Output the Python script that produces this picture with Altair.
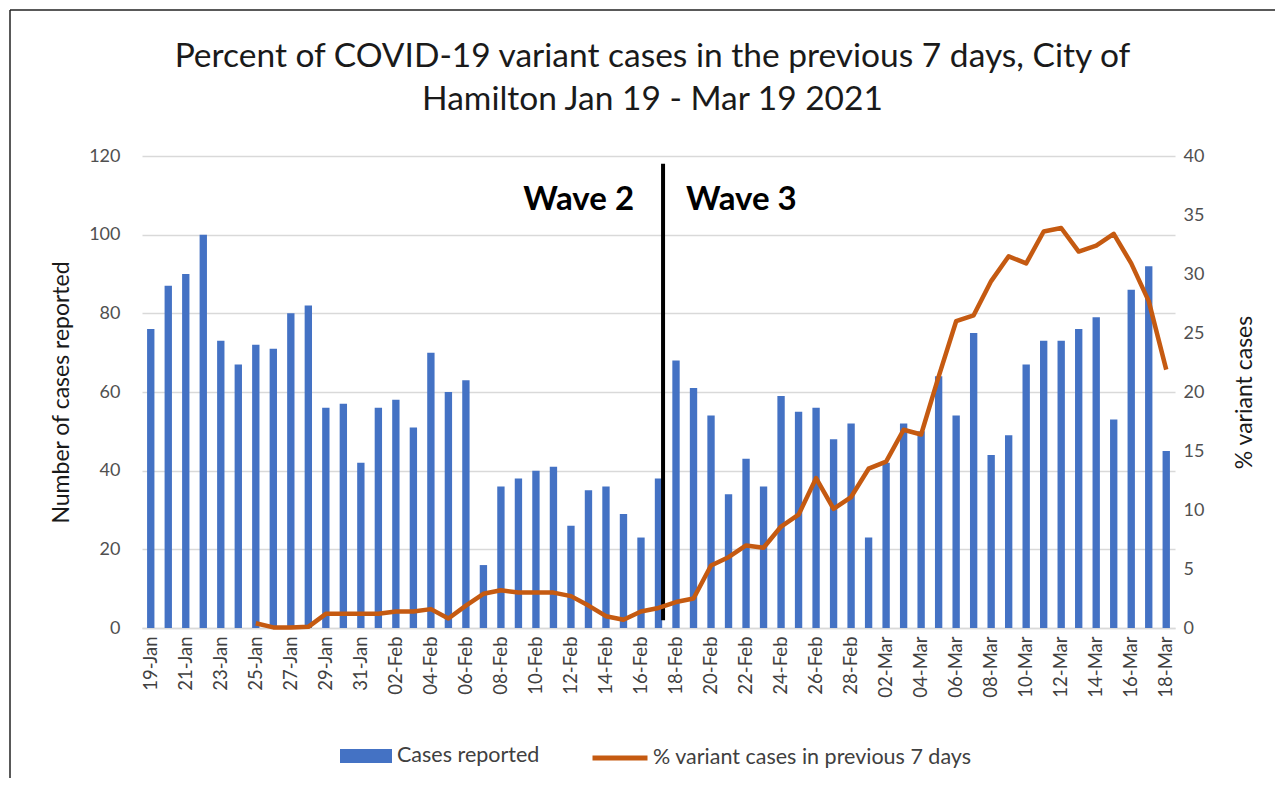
import altair as alt
import pandas as pd

# ---- data ----
dates = list(pd.date_range("2021-01-19", "2021-03-18").strftime("%d-%b"))

cases = [76, 87, 90, 100, 73, 67, 72, 71, 80, 82, 56, 57, 42,
         56, 58, 51, 70, 60, 63, 16, 36, 38, 40, 41, 26, 35, 36, 29, 23, 38,
         68, 61, 54, 34, 43, 36, 59, 55, 56, 48, 52,
         23, 42, 52, 50, 64, 54, 75, 44, 49, 67, 73, 73, 76, 79, 53, 86, 92, 45]

pct_variant = [None, None, None, None, None, None, 0.4, 0.05, 0.05, 0.1, 1.2, 1.2, 1.2,
               1.2, 1.4, 1.4, 1.6, 0.8, 1.9, 2.9, 3.2, 3.0, 3.0, 3.0, 2.7, 1.9, 1.0, 0.7, 1.4, 1.7,
               2.2, 2.5, 5.3, 6.0, 7.0, 6.8, 8.6, 9.6, 12.7, 10.1, 11.1,
               13.5, 14.1, 16.8, 16.4, 21.3, 26.0, 26.5, 29.4, 31.5, 30.9, 33.6, 33.9, 31.9, 32.4,
               33.4, 30.9, 27.7, 21.9]

bar_series = "Cases reported"
line_series = "% variant cases in previous 7 days"
wave_split_date = "17-Feb"
wave_labels = ["Wave 2", "Wave 3"]

title_lines = ["Percent of COVID-19 variant cases in the previous 7 days, City of",
               "Hamilton Jan 19 - Mar 19 2021"]

df = pd.DataFrame({"date": dates, "cases": cases, "pct": pct_variant})
df["bs"] = bar_series
df["ls"] = line_series

FONT = "Lato"
xscale = alt.Scale(domain=dates, paddingInner=0, paddingOuter=0)

x_enc = alt.X("date:N", scale=xscale, title=None,
              axis=alt.Axis(values=dates[::2], labelAngle=270, labelFontSize=18.5,
                            labelColor="#404040", labelPadding=8, ticks=False,
                            domainColor="#d9d9d9", domainWidth=1.5, labelFont=FONT))

yscale = alt.Scale(domain=[0, 120], nice=False)
yaxis = alt.Axis(values=list(range(0, 121, 20)), title="Number of cases reported",
                 titleFontSize=23, titleFontWeight="normal", titleColor="#1a1a1a",
                 labelFontSize=18, labelColor="#505050", labelPadding=22,
                 domain=False, ticks=False, grid=True, gridColor="#d9d9d9",
                 gridWidth=1.5, titlePadding=15)

bars = alt.Chart(df).mark_bar(width=alt.RelativeBandSize(0.42)).encode(
    x=x_enc,
    y=alt.Y("cases:Q", scale=yscale, axis=yaxis),
    fill=alt.Fill("bs:N", scale=alt.Scale(domain=[bar_series], range=["#4472c4"]),
                  legend=alt.Legend(orient="none", legendX=198, legendY=574, title=None,
                                    symbolType="M-1,-0.27L1,-0.27L1,0.27L-1,0.27Z",
                                    symbolSize=2704, symbolStrokeWidth=0,
                                    labelFontSize=21.5, labelColor="#404040", labelLimit=0,
                                    labelOffset=5, padding=0, labelFont=FONT)),
)

split_df = pd.DataFrame({"date": [wave_split_date], "cases": [2], "y1": [118],
                         "l2": [wave_labels[0]], "l3": [wave_labels[1]]})
label_df = pd.DataFrame({"date": [wave_split_date], "cases": [106.3],
                         "l2": [wave_labels[0]], "l3": [wave_labels[1]]})

rule = alt.Chart(split_df).mark_rule(color="black", strokeWidth=4).encode(
    x=alt.X("date:N", scale=xscale, bandPosition=0.76),
    y=alt.Y("cases:Q", scale=yscale, axis=yaxis),
    y2="y1:Q",
)
t2 = alt.Chart(label_df).mark_text(align="right", baseline="alphabetic", dx=-29,
                                   fontSize=33, fontWeight="bold", color="black").encode(
    x=alt.X("date:N", scale=xscale, bandPosition=0.76),
    y=alt.Y("cases:Q", scale=yscale, axis=yaxis),
    text="l2:N",
)
t3 = alt.Chart(label_df).mark_text(align="left", baseline="alphabetic", dx=23,
                                   fontSize=33, fontWeight="bold", color="black").encode(
    x=alt.X("date:N", scale=xscale, bandPosition=0.76),
    y=alt.Y("cases:Q", scale=yscale, axis=yaxis),
    text="l3:N",
)

frame_df = pd.DataFrame({"a": [0]})
border_left = alt.Chart(frame_df).mark_rule(color="#222222", strokeWidth=1.5).encode(
    x=alt.value(-132), y=alt.value(-146), y2=alt.value(640))
border_top = alt.Chart(frame_df).mark_rule(color="#222222", strokeWidth=1.5).encode(
    x=alt.value(-132), x2=alt.value(1160), y=alt.value(-146))

line = alt.Chart(df).transform_filter("isValid(datum.pct)").mark_line(
    strokeWidth=4.5, strokeJoin="round").encode(
    x=alt.X("date:N", scale=xscale),
    y=alt.Y("pct:Q", scale=alt.Scale(domain=[0, 40], nice=False),
            axis=alt.Axis(orient="right", values=list(range(0, 41, 5)),
                          title="% variant cases", titleAngle=270, titleFontSize=23,
                          titleFontWeight="normal", titleColor="#1a1a1a",
                          labelFontSize=18, labelColor="#505050", labelPadding=8,
                          domain=False, ticks=False, grid=False, titlePadding=53)),
    stroke=alt.Stroke("ls:N", scale=alt.Scale(domain=[line_series], range=["#c55a11"]),
                      legend=alt.Legend(orient="none", legendX=448, legendY=572, title=None,
                                        symbolType="stroke", symbolSize=3025,
                                        symbolStrokeWidth=5, labelFontSize=21.5, labelLimit=0,
                                        labelColor="#404040", labelOffset=3, padding=0,
                                        labelFont=FONT)),
)

chart = alt.layer(
    alt.layer(bars, rule, t2, t3, border_left, border_top),
    line,
).resolve_scale(y="independent", fill="independent", stroke="independent").properties(
    width=1033, height=472,
    autosize=alt.AutoSizeParams(type="none"),
    padding={"left": 134, "top": 148, "right": 100, "bottom": 150},
    title=alt.Title(title_lines, fontSize=33.5, fontWeight="normal", color="#1a1a1a",
                    anchor="middle", frame="group", offset=-108.5, lineHeight=43, dx=-6,
                    font=FONT),
).configure(font=FONT).configure_view(stroke=None)

chart.save("out.html", embed_options={"renderer": "svg", "actions": False})
